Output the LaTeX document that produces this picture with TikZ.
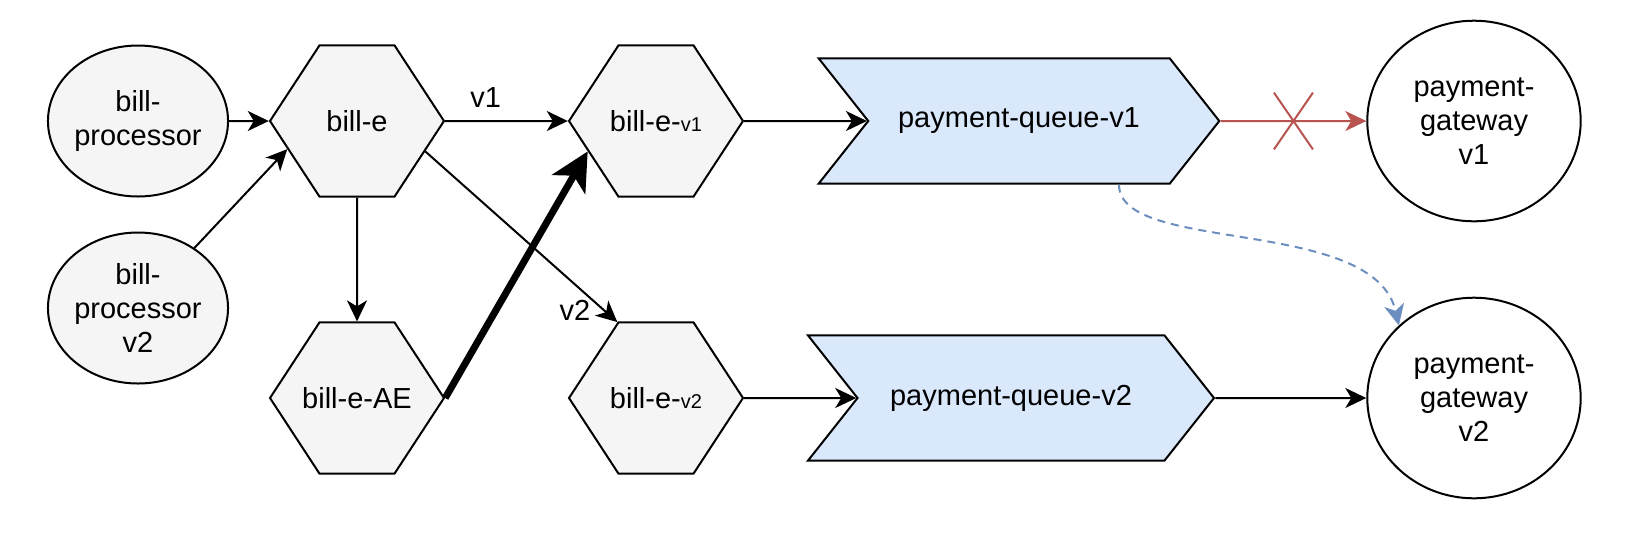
\documentclass[tikz,border=0pt]{standalone}
\usepackage{fontspec}
\setmainfont{Liberation Sans}
\usetikzlibrary{shapes.geometric,shapes.symbols,shapes.misc,arrows.meta}
\definecolor{grayfill}{HTML}{F5F5F5}
\definecolor{bluefill}{HTML}{DAE8FC}
\definecolor{redline}{HTML}{B85450}
\definecolor{blueline}{HTML}{6C8EBF}

\begin{document}
\begin{tikzpicture}[x=0.5pt,y=-0.5pt]
		\tikzset{vertex/.style = {draw, line width=1pt, align=center, font=\fontsize{14.5}{17}\selectfont, inner sep=0pt}}
		\tikzset{service/.style = {vertex, ellipse, fill=grayfill, minimum width=81.5pt, minimum height=75.5pt}}
		\tikzset{gateway/.style = {vertex, ellipse, fill=white, minimum width=106.7pt, minimum height=100.3pt}}
		\tikzset{exchange/.style = {vertex, signal, signal to=west and east, signal pointer angle=113.6, fill=grayfill, minimum width=87pt, minimum height=75.6pt, inner xsep=-10pt}}
		\tikzset{queue/.style = {vertex, signal, signal from=west, signal to=east, signal pointer angle=103.3, fill=bluefill, minimum height=62.6pt}}
		\tikzset{edge/.style = {line width=1pt, font=\fontsize{14.5}{17}\selectfont, -{Stealth[length=10.5pt, width=10pt, inset=3pt]}}}
		\tikzset{heavy/.style = {line width=3.5pt, -{Stealth[length=19pt, width=19pt, inset=5pt]}}}
		\tikzset{blocked/.style = {cross out, draw=redline, line width=1pt, minimum width=18.5pt, minimum height=27.4pt, inner sep=0pt}}
		
		\useasboundingbox (0,0) rectangle (1645,543);
		
		\node[service]  (1) at ( 138, 121) {bill-\\processor};
		\node[service]  (2) at ( 138, 308) {bill-\\processor\\v2};
		\node[exchange] (3) at ( 357, 121) {bill-e};
		\node[exchange] (4) at ( 357, 398) {bill-e-AE};
		\node[exchange] (5) at ( 656, 121) {bill-e-{\fontsize{10}{12}\selectfont v1}};
		\node[exchange] (6) at ( 656, 398) {bill-e-{\fontsize{10}{12}\selectfont v2}};
		\node[queue, minimum width=200.3pt] (7) at (1019, 121) {payment-queue-v1};
		\node[queue, minimum width=203pt]   (8) at (1011, 398) {payment-queue-v2};
		\node[gateway]  (9) at (1474, 121) {payment-\\gateway\\v1};
		\node[gateway] (10) at (1474, 398) {payment-\\gateway\\v2};
		
		\draw[edge] (1) to (3);
		\draw[edge] (2) to (3.202);
		\draw[edge] (3) to node[pos=0.33, above=3pt] {v1} (5);
		\draw[edge] (3) to (4);
		\draw[edge] (3.336) to node[pos=0.93, left=3pt] {v2} (6.117);
		\draw[heavy] (4.east) to (5.204);
		\draw[edge] (5) to (7);
		\draw[edge] (6) to (8);
		\draw[edge, color=redline] (7) to node[blocked] {} (9);
		\draw[edge] (8) to (10);
		\draw[edge, color=blueline, dash pattern=on 4pt off 3pt] ([xshift=50pt]7.south) .. controls +(0,70) and +(-25,-110) .. (10.136);
\end{tikzpicture}
\end{document}
